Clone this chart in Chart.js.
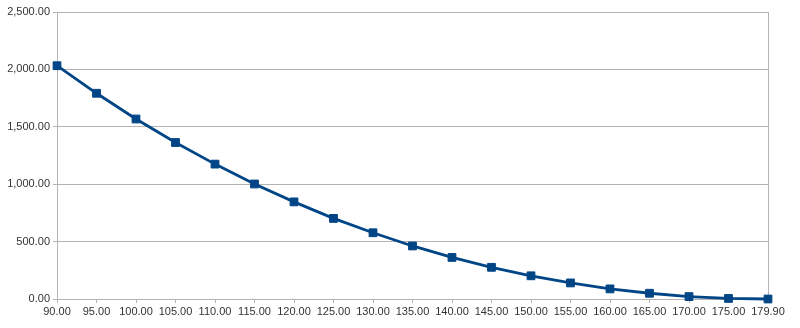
<!DOCTYPE html>
<html>
<head>
<meta charset="utf-8">
<script src="https://cdn.jsdelivr.net/npm/chart.js@4"></script>
<style>
  html, body { margin: 0; padding: 0; background: #fff; }
  #wrap { width: 800px; height: 328px; }
</style>
</head>
<body>
<div id="wrap"><canvas id="chart"></canvas></div>
<script>
// angle categories and values
var labels = ['90.00','95.00','100.00','105.00','110.00','115.00','120.00','125.00','130.00',
              '135.00','140.00','145.00','150.00','155.00','160.00','165.00','170.00','175.00','179.90'];
var values = [2032, 1792, 1568, 1363, 1175, 1002, 846, 702, 577,
              462, 362, 276, 202, 140, 88, 50, 21, 5, 0];
var yTicks = [0, 500, 1000, 1500, 2000, 2500];

var gridGrey = '#b3b3b3';
var lineBlue = '#004586';

function fmt(v){
    return Number(v).toLocaleString('en-US', {minimumFractionDigits: 2, maximumFractionDigits: 2});
}

var ctx = document.getElementById('chart');
var myChart = new Chart(ctx, {
    type: 'line',
    data: {
        labels: labels,
        datasets: [{
            data: values,
            borderColor: lineBlue,
            backgroundColor: lineBlue,
            borderWidth: 2.8,
            pointStyle: 'rect',
            pointRadius: 5.5,
            pointBorderWidth: 1,
            pointBackgroundColor: lineBlue,
            pointBorderColor: lineBlue,
            tension: 0,
            fill: false,
            clip: false
        }]
    },
    options: {
        responsive: true,
        maintainAspectRatio: false,
        animation: false,
        layout: { padding: { top: 12, right: 32, left: 0, bottom: 0 } },
        plugins: {
            legend: { display: false },
            tooltip: { enabled: false }
        },
        scales: {
            x: {
                type: 'category',
                offset: false,
                grid: {
                    drawOnChartArea: true,
                    color: function(c){ return c.index === labels.length - 1 ? gridGrey : 'rgba(0,0,0,0)'; },
                    tickColor: gridGrey,
                    tickLength: 4
                },
                border: { color: gridGrey },
                ticks: {
                    autoSkip: false,
                    maxRotation: 0,
                    padding: 2,
                    color: '#333',
                    font: { family: 'Liberation Sans', size: 11 }
                },
                afterFit: function(s){ s.height = 29; }
            },
            y: {
                min: 0,
                max: 2500,
                afterBuildTicks: function(s){ s.ticks = yTicks.map(function(v){ return {value: v}; }); },
                grid: { color: gridGrey, tickColor: gridGrey, tickLength: 4 },
                border: { color: gridGrey },
                ticks: {
                    padding: 3,
                    color: '#333',
                    font: { family: 'Liberation Sans', size: 11 },
                    callback: function(v){ return fmt(v); }
                },
                afterFit: function(s){ s.width = 57; }
            }
        }
    }
});
</script>
</body>
</html>
